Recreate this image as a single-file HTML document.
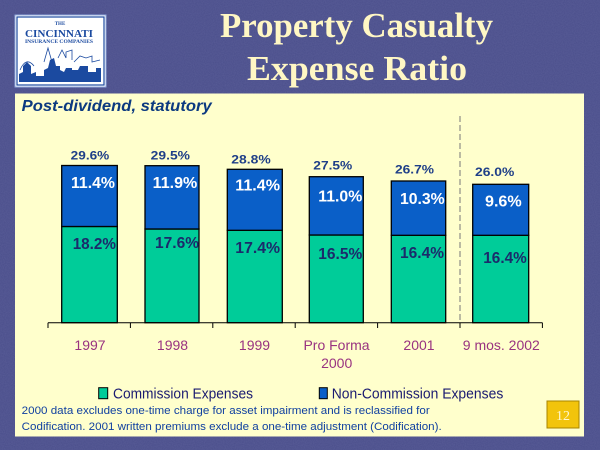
<!DOCTYPE html>
<html><head><meta charset="utf-8"><style>
html,body{margin:0;padding:0;background:#4a4e8b;}
svg{display:block;}
</style></head><body>
<svg width="600" height="450" viewBox="0 0 600 450" xmlns="http://www.w3.org/2000/svg">
<defs>
<filter id="noise" x="0" y="0" width="100%" height="100%">
<feTurbulence type="fractalNoise" baseFrequency="0.9" numOctaves="2" seed="3" result="t"/>
<feColorMatrix type="matrix" values="0 0 0 0 0.29  0 0 0 0 0.30  0 0 0 0 0.55  0 0 0 0.35 0" in="t"/>
</filter>
</defs>
<rect x="0" y="0" width="600" height="450" fill="#4a4e8b"/>
<rect x="0" y="0" width="600" height="450" filter="url(#noise)" opacity="0.6"/>

<!-- Logo -->
<rect x="15" y="15" width="91" height="72" fill="#ffffff" stroke="#8fa8dd" stroke-width="1"/>
<rect x="17" y="17" width="87" height="68" fill="#ffffff" stroke="#1b4aa0" stroke-width="1.2"/>
<text x="60" y="25" font-family="Liberation Serif, serif" font-size="5" font-weight="bold" fill="#1b4aa0" text-anchor="middle">THE</text>
<text x="25" y="37" font-family="Liberation Serif, serif" font-size="11" font-weight="bold" fill="#1b4aa0" textLength="68" lengthAdjust="spacingAndGlyphs">CINCINNATI</text>
<text x="25" y="43" font-family="Liberation Serif, serif" font-size="5" font-weight="bold" fill="#1b4aa0" textLength="68" lengthAdjust="spacingAndGlyphs">INSURANCE COMPANIES</text>
<path d="M19 82 L19 74 L23 72 L23 66 L27 62 L31 66 L31 74 L36 72 L36 76 L44 76 L44 70 L48 68 L50 60 L54 58 L56 66 L60 66 L60 70 L64 72 L66 68 L72 68 L72 70 L78 70 L80 66 L88 66 L88 72 L96 72 L96 68 L101 68 L101 82 Z" fill="#1b4aa0"/>
<path d="M20 70 Q26 56 34 66 M44 62 L48 48 L52 62 M58 58 L62 50 L66 58 L66 52 L72 50 L72 60 M74 62 L80 56 L86 58 L92 56 L92 62 L100 60" fill="none" stroke="#1b4aa0" stroke-width="0.8"/>

<!-- Title -->
<text x="220" y="37" font-family="Liberation Serif, serif" font-size="35" font-weight="bold" fill="#fff7c4" textLength="273" lengthAdjust="spacingAndGlyphs">Property Casualty</text>
<text x="247" y="80" font-family="Liberation Serif, serif" font-size="35" font-weight="bold" fill="#fff7c4" textLength="220" lengthAdjust="spacingAndGlyphs">Expense Ratio</text>

<!-- Panel -->
<rect x="15" y="93.5" width="569" height="343" fill="#ffffcc"/>

<text x="21.7" y="111" font-family="Liberation Sans, sans-serif" font-size="16" font-weight="bold" font-style="italic" fill="#0c3a80" textLength="190" lengthAdjust="spacingAndGlyphs">Post-dividend, statutory</text>

<!-- dashed separator -->
<line x1="460" y1="116" x2="460" y2="322" stroke="#777" stroke-width="1" stroke-dasharray="6,3"/>

<!-- Bars -->
<g stroke="#000" stroke-width="1.3">
<rect x="61.7" y="226.5" width="55.6" height="96.2" fill="#00cc99"/>
<rect x="61.7" y="165.5" width="55.6" height="61" fill="#0a5fc8"/>
<rect x="145" y="229" width="54" height="93.7" fill="#00cc99"/>
<rect x="145" y="165.7" width="54" height="63.3" fill="#0a5fc8"/>
<rect x="227.3" y="230.3" width="55" height="92.4" fill="#00cc99"/>
<rect x="227.3" y="169.3" width="55" height="61" fill="#0a5fc8"/>
<rect x="309.3" y="235" width="54" height="87.7" fill="#00cc99"/>
<rect x="309.3" y="176.7" width="54" height="58.3" fill="#0a5fc8"/>
<rect x="391.3" y="235.3" width="54.4" height="87.4" fill="#00cc99"/>
<rect x="391.3" y="181" width="54.4" height="54.3" fill="#0a5fc8"/>
<rect x="472.7" y="235.3" width="56" height="87.4" fill="#00cc99"/>
<rect x="472.7" y="184.3" width="56" height="51" fill="#0a5fc8"/>
</g>

<!-- Axis -->
<g stroke="#000" stroke-width="1">
<line x1="48" y1="322.7" x2="542.4" y2="322.7"/>
<line x1="48" y1="322.7" x2="48" y2="328"/>
<line x1="130.4" y1="322.7" x2="130.4" y2="328"/>
<line x1="212.8" y1="322.7" x2="212.8" y2="328"/>
<line x1="295.2" y1="322.7" x2="295.2" y2="328"/>
<line x1="377.6" y1="322.7" x2="377.6" y2="328"/>
<line x1="460" y1="322.7" x2="460" y2="328"/>
<line x1="542.4" y1="322.7" x2="542.4" y2="328"/>
</g>

<!-- Totals -->
<g font-family="Liberation Sans, sans-serif" font-size="12" font-weight="bold" fill="#1f3f88">
<text x="70.7" y="159.5" textLength="38.6" lengthAdjust="spacingAndGlyphs">29.6%</text>
<text x="150.7" y="159.5" textLength="39.3" lengthAdjust="spacingAndGlyphs">29.5%</text>
<text x="231.3" y="163.5" textLength="39.4" lengthAdjust="spacingAndGlyphs">28.8%</text>
<text x="313.3" y="169.5" textLength="39" lengthAdjust="spacingAndGlyphs">27.5%</text>
<text x="395" y="173.5" textLength="39" lengthAdjust="spacingAndGlyphs">26.7%</text>
<text x="475" y="176" textLength="39.3" lengthAdjust="spacingAndGlyphs">26.0%</text>
</g>

<!-- Non-commission labels -->
<g font-family="Liberation Sans, sans-serif" font-size="16" font-weight="bold" fill="#ffffff">
<text x="71" y="188" textLength="44" lengthAdjust="spacingAndGlyphs">11.4%</text>
<text x="152.7" y="188" textLength="44.6" lengthAdjust="spacingAndGlyphs">11.9%</text>
<text x="235.3" y="190.5" textLength="44.7" lengthAdjust="spacingAndGlyphs">11.4%</text>
<text x="318.3" y="201.5" textLength="44" lengthAdjust="spacingAndGlyphs">11.0%</text>
<text x="400" y="204" textLength="44.7" lengthAdjust="spacingAndGlyphs">10.3%</text>
<text x="485" y="206.5" textLength="36.7" lengthAdjust="spacingAndGlyphs">9.6%</text>
</g>

<!-- Commission labels -->
<g font-family="Liberation Sans, sans-serif" font-size="16" font-weight="bold" fill="#1b2a6b">
<text x="72.7" y="249" textLength="43.3" lengthAdjust="spacingAndGlyphs">18.2%</text>
<text x="155" y="248" textLength="44" lengthAdjust="spacingAndGlyphs">17.6%</text>
<text x="235.3" y="253" textLength="44.7" lengthAdjust="spacingAndGlyphs">17.4%</text>
<text x="318.3" y="259" textLength="44" lengthAdjust="spacingAndGlyphs">16.5%</text>
<text x="400" y="258" textLength="44" lengthAdjust="spacingAndGlyphs">16.4%</text>
<text x="483.3" y="263" textLength="43.4" lengthAdjust="spacingAndGlyphs">16.4%</text>
</g>

<!-- Category labels -->
<g font-family="Liberation Sans, sans-serif" font-size="14" fill="#993380" text-anchor="middle">
<text x="90" y="350">1997</text>
<text x="172.5" y="350">1998</text>
<text x="254.5" y="350">1999</text>
<text x="336.5" y="350">Pro Forma</text>
<text x="336.7" y="368">2000</text>
<text x="419" y="350">2001</text>
<text x="501.3" y="350">9 mos. 2002</text>
</g>

<!-- Legend -->
<rect x="98.7" y="387.7" width="9" height="11" fill="#00cc99" stroke="#000" stroke-width="1"/>
<text x="113" y="398.3" font-family="Liberation Sans, sans-serif" font-size="15" fill="#1a1a70" textLength="140" lengthAdjust="spacingAndGlyphs">Commission Expenses</text>
<rect x="319.3" y="387.7" width="8" height="11" fill="#0a5fc8" stroke="#000" stroke-width="1"/>
<text x="331.7" y="398.3" font-family="Liberation Sans, sans-serif" font-size="15" fill="#1a1a70" textLength="171.6" lengthAdjust="spacingAndGlyphs">Non-Commission Expenses</text>

<!-- Footnote -->
<g font-family="Liberation Sans, sans-serif" font-size="11" fill="#1040a0">
<text x="21.7" y="414" textLength="408" lengthAdjust="spacingAndGlyphs">2000 data excludes one-time charge for asset impairment and is reclassified for</text>
<text x="21.7" y="430" textLength="420" lengthAdjust="spacingAndGlyphs">Codification. 2001 written premiums exclude a one-time adjustment (Codification).</text>
</g>

<!-- Page number -->
<rect x="547" y="401" width="32" height="27" fill="#f2c40c" stroke="#a88400" stroke-width="1"/>
<text x="563" y="420" font-family="Liberation Serif, serif" font-size="14" fill="#fff8d0" text-anchor="middle">12</text>
</svg>
</body></html>
